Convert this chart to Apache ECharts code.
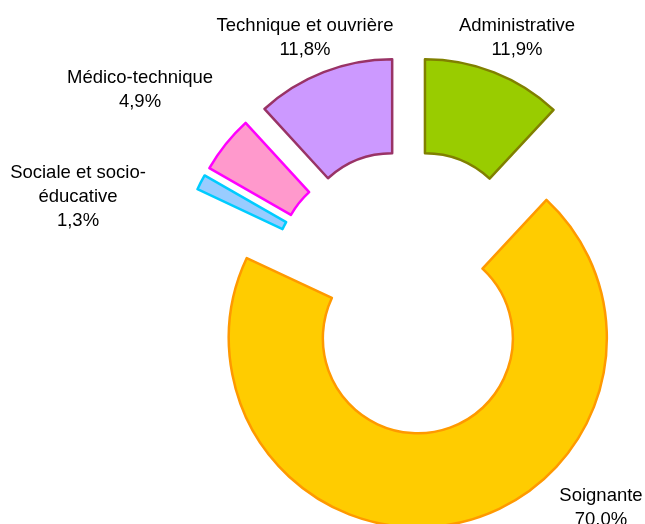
<!DOCTYPE html>
<html>
<head>
<meta charset="utf-8">
<script src="https://cdn.jsdelivr.net/npm/echarts@6/dist/echarts.min.js"></script>
<style>
  html, body { margin: 0; padding: 0; background: #ffffff; }
  #chart { width: 645px; height: 524px; }
</style>
</head>
<body>
<div id="chart"></div>
<script>
// Répartition des effectifs par filière (en %)
const categories = [
  'Administrative',
  'Soignante',
  'Sociale et socio-éducative',
  'Médico-technique',
  'Technique et ouvrière'
];
const shares = [11.9, 70.0, 1.3, 4.9, 11.8];

// Styling per slice
const fillColors   = ['#99CC00', '#FFCC00', '#99CCFF', '#FF99CC', '#CC99FF'];
const borderColors = ['#808000', '#FF9900', '#00CCFF', '#FF00FF', '#993366'];
const explodeBy    = [45, 49, 45, 45, 45];

// Where each label block is centred
const labelAnchors = [
  [517, 38],
  [601, 508],
  [78, 197],
  [140, 90],
  [305, 38]
];

const fmtPct = v => v.toFixed(1).replace('.', ',') + '%';
const wrapName = n => n.length > 20 ? n.replace(/(socio-)/, '$1\n') : n;

const chart = echarts.init(document.getElementById('chart'), null, { renderer: 'canvas' });

// One pie per slice so that every slice can be pulled out by its own distance;
// each pie carries the full data set, with only its own slice painted.
const series = categories.map((_, k) => ({
  type: 'pie',
  center: [408.5, 290.2],
  radius: [95, 189],
  startAngle: 90,
  clockwise: true,
  selectedMode: 'multiple',
  selectedOffset: explodeBy[k],
  avoidLabelOverlap: false,
  animation: false,
  emphasis: { disabled: true },
  label: { show: false },
  labelLine: { show: false },
  data: categories.map((name, i) => ({
    name,
    value: shares[i],
    selected: i === k,
    itemStyle: i === k
      ? { color: fillColors[i], borderColor: borderColors[i], borderWidth: 2.5 }
      : { color: 'rgba(0,0,0,0)', borderWidth: 0 }
  }))
}));

// Category name and share, written next to each slice
const labels = categories.map((name, i) => ({
  type: 'text',
  x: labelAnchors[i][0],
  y: labelAnchors[i][1],
  silent: true,
  style: {
    text: wrapName(name) + '\n' + fmtPct(shares[i]),
    fill: '#000000',
    font: '18.5px "Liberation Sans", Arial, sans-serif',
    lineHeight: 24,
    align: 'center',
    verticalAlign: 'middle'
  }
}));

chart.setOption({
  backgroundColor: '#ffffff',
  animation: false,
  series,
  graphic: labels
});
</script>
</body>
</html>
